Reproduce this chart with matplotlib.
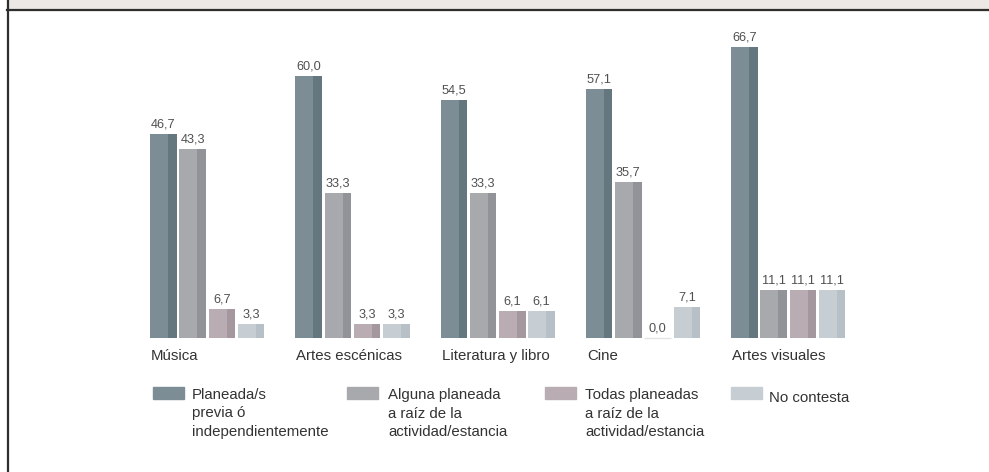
import matplotlib
matplotlib.use("Agg")
import matplotlib.pyplot as plt
from matplotlib.patches import Rectangle
from matplotlib.lines import Line2D

categorias = ["Música", "Artes escénicas", "Literatura y libro", "Cine", "Artes visuales"]
planeadas_previa = [46.7, 60.0, 54.5, 57.1, 66.7]
alguna_planeada = [43.3, 33.3, 33.3, 35.7, 11.1]
todas_planeadas = [6.7, 3.3, 6.1, 0.0, 11.1]
no_contesta = [3.3, 3.3, 6.1, 7.1, 11.1]
leyenda = ["Planeada/s\nprevia ó\nindependientemente",
           "Alguna planeada\na raíz de la\nactividad/estancia",
           "Todas planeadas\na raíz de la\nactividad/estancia",
           "No contesta"]

series = [planeadas_previa, alguna_planeada, todas_planeadas, no_contesta]
frente = ["#7c8d95", "#a8a9ad", "#b9acb3", "#c6ced4"]
lado = ["#64767e", "#929398", "#a5979e", "#b6c0c6"]

W, H = 989, 472
fig = plt.figure(figsize=(W / 100, H / 100), dpi=100)
plt.rcParams['font.family'] = ['Liberation Sans', 'DejaVu Sans']

def fx(x):
    return x / W

def fy(y):
    return 1 - y / H

# header band and frame lines
fig.patches.append(Rectangle((fx(7), fy(9.5)), 1 - fx(7), 9.5 / H,
                             transform=fig.transFigure, color="#ece8e5", zorder=0))
fig.lines.append(Line2D([fx(7), 1], [fy(9.8), fy(9.8)], transform=fig.transFigure,
                        color="#2e2e2e", lw=1.6))
fig.lines.append(Line2D([fx(7.5), fx(7.5)], [0, 1], transform=fig.transFigure,
                        color="#2e2e2e", lw=1.6))

# axes in pixel units horizontally, value units vertically
base_px = 338
escala = 4.365
ax = fig.add_axes([0, 0, 1, 1])
ax.set_xlim(0, W)
ax.set_ylim(-(H - base_px) / escala, base_px / escala)
ax.axis("off")
ax.patch.set_alpha(0)

grupo0 = 150
paso_grupo = 145.25
paso_barra = 29.3
ancho_frente = 18
ancho_lado = 8.5

for j, vals in enumerate(series):
    xs = [grupo0 + i * paso_grupo + j * paso_barra for i in range(len(categorias))]
    ax.bar(xs, vals, width=ancho_frente, align="edge", color=frente[j], lw=0)
    ax.bar([x + ancho_frente for x in xs], vals, width=ancho_lado, align="edge",
           color=lado[j], lw=0)
    for x, v in zip(xs, vals):
        if v == 0:
            ax.hlines(0, x, x + ancho_frente + ancho_lado, color="#e3e3e3", lw=1)
        ax.annotate(f"{v:.1f}".replace(".", ","),
                    (x + (ancho_frente + ancho_lado) / 2, v),
                    xytext=(0, 2.5), textcoords="offset points",
                    ha="center", va="bottom", fontsize=9.2, color="#505050")

for i, c in enumerate(categorias):
    fig.text(fx(grupo0 + i * paso_grupo + 1), fy(360), c, ha="left",
             va="baseline", fontsize=10.8, color="#333333")

# legend
cuadro_x = [153, 347, 545, 731]
texto_x = [192, 388, 585, 769]
for k, etiqueta in enumerate(leyenda):
    fig.patches.append(Rectangle((fx(cuadro_x[k]), fy(399)), 31 / W, 12.5 / H,
                                 transform=fig.transFigure, color=frente[k]))
    lineas = etiqueta.split("\n")
    if len(lineas) == 1:
        fig.text(fx(texto_x[k]), fy(402), lineas[0], ha="left", va="baseline",
                 fontsize=10.8, color="#333333")
    else:
        for n, linea in enumerate(lineas):
            fig.text(fx(texto_x[k]), fy(399 + n * 18.5), linea, ha="left",
                     va="baseline", fontsize=10.8, color="#333333")

fig.savefig("out.png", dpi=100)
